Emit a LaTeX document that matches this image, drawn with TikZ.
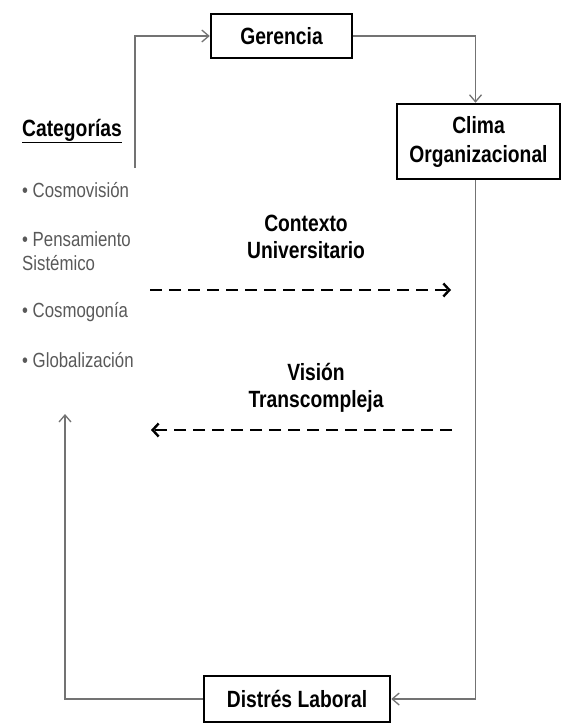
\documentclass[tikz,border=0pt]{standalone}
\usepackage{fontspec}
\setmainfont[FakeStretch=0.82]{Liberation Sans}
\usetikzlibrary{positioning,arrows.meta}

\begin{document}
\begin{tikzpicture}[x=1pt,y=-1pt,
caja/.style={draw=black,line width=2.5pt,fill=white,inner sep=0pt,align=center,
  font=\bfseries\fontsize{23.5}{29}\selectfont},
flecha/.style={draw=black!55,line width=1.3pt,-{Straight Barb[length=7pt,width=12pt]}},
rayas/.style={line width=2.6pt,dash pattern=on 12pt off 7pt,
  -{Straight Barb[length=6pt,width=13pt,line width=2.4pt]}},
etiq/.style={align=center,font=\bfseries\fontsize{23.5}{27}\selectfont},
item/.style={anchor=west,inner sep=0pt,align=left,text=black!65,
  font=\fontsize{20.5}{24}\selectfont}]
\useasboundingbox (0,0) rectangle (570,725);
\node[caja,minimum width=141pt,minimum height=44pt] (a1) at (281.5,36) {Gerencia};
\node[caja,minimum width=163pt,minimum height=75pt] (a2) at (478.5,141.5) {Clima\\Organizacional};
\node[caja,minimum width=186pt,minimum height=46pt] (a3) at (297,699) {Distrés Laboral};
%categorias
\node[anchor=west,inner sep=0pt,font=\bfseries\fontsize{23.5}{28}\selectfont] (c0) at (22,131) {\underline{Categorías}};
\node[item] (c1) at (22,190) {• Cosmovisión};
\node[item] (c2) at (22,251) {• Pensamiento\\Sistémico};
\node[item] (c3) at (22,312) {• Cosmogonía};
\node[item] (c4) at (22,360) {• Globalización};
\node[etiq] (l1) at (306,237) {Contexto\\Universitario};
\node[etiq] (l2) at (316,388) {Visión\\Transcompleja};
\coordinate (p1) at (135,168);
\coordinate (p2) at (65,414);
\coordinate (d1) at (150,290);
\coordinate (d2) at (451,290);
\coordinate (d3) at (452,430);
\coordinate (d4) at (151,430);
\draw[flecha] (p1) |- (a1.west);
\draw[flecha] (a1.east) -| ([xshift=-3pt]a2.north);
\draw[flecha] ([xshift=-3pt]a2.south) |- (a3.east);
\draw[flecha] (a3.west) -| (p2);
\draw[rayas] (d1) -- (d2);
\draw[rayas] (d3) -- (d4);
%\draw[rayas] (l1) -- (l2);
\end{tikzpicture}
\end{document}
